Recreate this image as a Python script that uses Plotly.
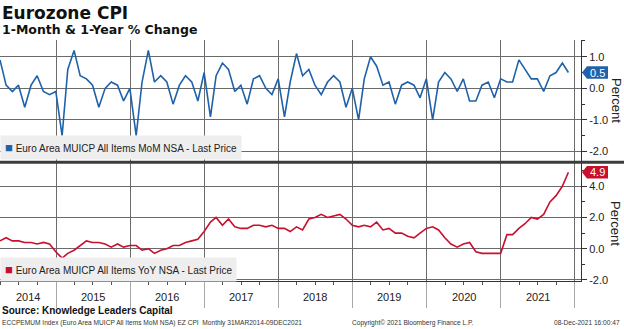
import pandas as pd
import plotly.graph_objects as go

# ---------------- data ----------------
mom = [
    0.9, 0.1, -0.1, 0.1, -0.6, 0.1, 0.4, -0.1, -0.2, -0.1,            # 2014 Mar-Dec
    -1.5, 0.6, 1.2, 0.4, 0.3, 0.1, -0.6, 0.0, 0.2, 0.1, -0.4, 0.0,    # 2015
    -1.5, 0.2, 1.2, 0.2, 0.4, 0.2, -0.5, 0.1, 0.4, 0.2, -0.4, 0.5,    # 2016
    -0.9, 0.4, 0.8, 0.6, -0.1, 0.1, -0.5, 0.3, 0.4, 0.0, -0.2, 0.3,   # 2017
    -0.9, 0.2, 1.1, 0.4, 0.6, 0.1, -0.2, 0.2, 0.4, 0.2, -0.6, 0.0,    # 2018
    -1.0, 0.3, 1.0, 0.7, 0.1, 0.2, -0.5, 0.1, 0.2, 0.1, -0.3, 0.3,    # 2019
    -1.0, 0.2, 0.5, 0.3, -0.1, 0.3, -0.4, -0.4, 0.1, 0.2, -0.3, 0.3,  # 2020
    0.2, 0.2, 0.9, 0.6, 0.3, 0.3, -0.1, 0.4, 0.5, 0.8, 0.5,           # 2021 Jan-Nov
]
yoy = [
    0.5, 0.7, 0.5, 0.5, 0.4, 0.4, 0.3, 0.4, 0.3, -0.2,
    -0.6, -0.3, -0.1, 0.2, 0.5, 0.4, 0.4, 0.3, 0.1, 0.3, 0.1, 0.2,
    0.2, -0.1, 0.0, -0.3, -0.1, 0.0, 0.2, 0.2, 0.4, 0.5, 0.6, 1.1,
    1.7, 2.0, 1.5, 1.9, 1.4, 1.3, 1.3, 1.5, 1.5, 1.4, 1.5, 1.3,
    1.3, 1.1, 1.4, 1.2, 1.9, 2.0, 2.2, 2.0, 2.1, 2.2, 1.9, 1.5,
    1.4, 1.5, 1.4, 1.7, 1.2, 1.3, 1.0, 1.0, 0.8, 0.7, 1.0, 1.3,
    1.4, 1.2, 0.7, 0.3, 0.1, 0.3, 0.4, -0.2, -0.3, -0.3, -0.3, -0.3,
    0.9, 0.9, 1.3, 1.6, 2.0, 1.9, 2.2, 3.0, 3.4, 4.0, 4.9,
]
months = pd.date_range("2014-03-31", periods=len(mom), freq=pd.offsets.MonthEnd())

year_labels = ["2014", "2015", "2016", "2017", "2018", "2019", "2020", "2021"]
year_label_pos = ["2014-08-14", "2015-07-02", "2016-07-02", "2017-07-02",
                  "2018-07-02", "2019-07-02", "2020-07-02", "2021-07-02"]
year_bounds = ["2015-01-01", "2016-01-01", "2017-01-01", "2018-01-01",
               "2019-01-01", "2020-01-01", "2021-01-01", "2022-01-01"]

top_ticks = [-2, -1, 0, 1]
top_tick_text = ["-2.0", "-1.0", "0.0", "1.0"]
bot_ticks = [-2, 0, 2, 4]
bot_tick_text = ["-2.0", "0.0", "2.0", "4.0"]

mom_name = "Euro Area MUICP All Items MoM NSA - Last Price"
yoy_name = "Euro Area MUICP All Items YoY NSA - Last Price"
title = "Eurozone CPI"
subtitle = "1-Month & 1-Year % Change"
source = "Source: Knowledge Leaders Capital"
foot_left = "ECCPEMUM Index (Euro Area MUICP All Items MoM NSA) EZ CPI  Monthly 31MAR2014-09DEC2021"
foot_mid = "Copyright\u00a9 2021 Bloomberg Finance L.P."
foot_right = "08-Dec-2021 16:00:47"

# ---------------- style ----------------
W, H = 624, 329
BLUE = "#1f62a9"
RED = "#c8102e"
GRID = "#6b6b6b"
AX = "#333333"
FONT = "Liberation Sans, Arial, sans-serif"
XR = ["2014-03-31", "2022-01-31"]
X_END = 581


def py(y):
    return 1 - y / H


def px(x):
    return x / W


fig = go.Figure()
fig.add_trace(go.Scatter(x=months, y=mom, mode="lines", line=dict(color=BLUE, width=1.6),
                         xaxis="x", yaxis="y", showlegend=False, hoverinfo="skip"))
fig.add_trace(go.Scatter(x=months, y=yoy, mode="lines", line=dict(color=RED, width=1.6),
                         xaxis="x2", yaxis="y2", showlegend=False, hoverinfo="skip"))

xdom = [0, px(X_END)]
top_dom = [py(161), py(40)]
bot_dom = [py(281), py(163)]
top_range = [-2.30, 1.53]
bot_range = [-2.07, 5.49]

common_x = dict(type="date", range=XR, domain=xdom, tickmode="array", tickvals=year_bounds,
                showgrid=True, gridcolor=GRID, gridwidth=1, zeroline=False, fixedrange=True)

fig.update_layout(
    width=W, height=H, template="none",
    margin=dict(l=0, r=0, t=0, b=0),
    paper_bgcolor="white", plot_bgcolor="white",
    font=dict(family=FONT, size=11, color="#222222"),
    xaxis=dict(**common_x, anchor="y", showticklabels=False, ticks="", showline=False),
    xaxis2=dict(**common_x, anchor="y2", ticktext=[""] * len(year_bounds),
                ticks="outside", ticklen=26, tickcolor="#a8a8a8", tickwidth=1,
                showline=True, linecolor=AX, linewidth=1,
                minor=dict(dtick="M3", tick0="2014-01-01", ticks="outside", ticklen=3,
                           tickcolor="#555555", showgrid=False)),
    yaxis=dict(domain=top_dom, range=top_range, side="right", anchor="x",
               tickmode="array", tickvals=top_ticks, ticktext=top_tick_text,
               showgrid=True, gridcolor=GRID, zeroline=False,
               showline=True, linecolor=AX, linewidth=1,
               ticks="outside", ticklen=5, tickcolor=AX,
               minor=dict(tickmode="linear", tick0=0, dtick=0.5, ticks="outside", ticklen=3,
                          tickcolor=AX, showgrid=False),
               tickfont=dict(size=11, color="#222222"), fixedrange=True),
    yaxis2=dict(domain=bot_dom, range=bot_range, side="right", anchor="x2",
                tickmode="array", tickvals=bot_ticks, ticktext=bot_tick_text,
                showgrid=True, gridcolor=GRID, zeroline=False,
                showline=True, linecolor=AX, linewidth=1,
                ticks="outside", ticklen=5, tickcolor=AX,
                minor=dict(tickmode="linear", tick0=0, dtick=1, ticks="outside", ticklen=3,
                           tickcolor=AX, showgrid=False),
                tickfont=dict(size=11, color="#222222"), fixedrange=True),
)

shapes = []
# separator between panels
shapes.append(dict(type="line", xref="paper", yref="paper", x0=0, x1=1, y0=py(162.3), y1=py(162.3),
                   line=dict(color="#3c3c3c", width=3)))


def value_tag(val, yref, half, color):
    x0, x1, x2 = px(X_END + 1), px(X_END + 6), px(X_END + 27)
    return dict(type="path", xref="paper", yref=yref, fillcolor=color, line=dict(width=0),
                path=f"M {x0},{val} L {x1},{val + half} L {x2},{val + half} "
                     f"L {x2},{val - half} L {x1},{val - half} Z")


top_ppu = 121 / (top_range[1] - top_range[0])
bot_ppu = 118 / (bot_range[1] - bot_range[0])
shapes.append(value_tag(mom[-1], "y", 6.2 / top_ppu, BLUE))
shapes.append(value_tag(yoy[-1], "y2", 6.2 / bot_ppu, RED))
fig.update_layout(shapes=shapes)

ann = []
ann.append(dict(text=f"{mom[-1]:.1f}", xref="paper", yref="y", x=px(X_END + 16.5), y=mom[-1],
                showarrow=False, font=dict(size=11, color="white", family=FONT),
                xanchor="center", yanchor="middle"))
ann.append(dict(text=f"{yoy[-1]:.1f}", xref="paper", yref="y2", x=px(X_END + 16.5), y=yoy[-1],
                showarrow=False, font=dict(size=11, color="white", family=FONT),
                xanchor="center", yanchor="middle"))

# titles
ann.append(dict(text=f"<b>{title}</b>", xref="paper", yref="paper", x=0, y=py(12.5),
                xanchor="left", yanchor="middle", showarrow=False,
                font=dict(family="DejaVu Sans", size=17, color="#111111")))
ann.append(dict(text=f"<b>{subtitle}</b>", xref="paper", yref="paper", x=0, y=py(29.5),
                xanchor="left", yanchor="middle", showarrow=False,
                font=dict(family="DejaVu Sans", size=12.5, color="#111111")))

# legends
ann.append(dict(text=f"<span style='color:{BLUE};font-size:13px'>\u25a0</span> {mom_name}",
                xref="paper", yref="paper", x=0, y=py(148), xanchor="left", yanchor="middle",
                showarrow=False, bgcolor="#eeeeee", borderpad=4,
                font=dict(family=FONT, size=10, color="#222222")))
ann.append(dict(text=f"<span style='color:{RED};font-size:13px'>\u25a0</span> {yoy_name}",
                xref="paper", yref="paper", x=0, y=py(269.5), xanchor="left", yanchor="middle",
                showarrow=False, bgcolor="#eeeeee", borderpad=4,
                font=dict(family=FONT, size=10, color="#222222")))

# Percent axis titles
for yc in (100, 223):
    ann.append(dict(text="Percent", xref="paper", yref="paper", x=px(616), y=py(yc),
                    xanchor="center", yanchor="middle", textangle=90, showarrow=False,
                    font=dict(family=FONT, size=13, color="#222222")))

# year labels
for lab, pos in zip(year_labels, year_label_pos):
    ann.append(dict(text=lab, xref="x2", yref="paper", x=pos, y=py(297),
                    xanchor="center", yanchor="middle", showarrow=False,
                    font=dict(family=FONT, size=11, color="#222222")))

# footer
ann.append(dict(text=f"<b>{source}</b>", xref="paper", yref="paper", x=0, y=py(310.5),
                xanchor="left", yanchor="middle", showarrow=False,
                font=dict(family=FONT, size=10, color="#111111")))
ann.append(dict(text=foot_left, xref="paper", yref="paper", x=0, y=py(322.5),
                xanchor="left", yanchor="middle", showarrow=False,
                font=dict(family=FONT, size=6.6, color="#333333")))
ann.append(dict(text=foot_mid, xref="paper", yref="paper", x=px(412), y=py(322.5),
                xanchor="center", yanchor="middle", showarrow=False,
                font=dict(family=FONT, size=6.6, color="#333333")))
ann.append(dict(text=foot_right, xref="paper", yref="paper", x=px(622), y=py(322.5),
                xanchor="right", yanchor="middle", showarrow=False,
                font=dict(family=FONT, size=6.6, color="#333333")))

fig.update_layout(annotations=ann)
fig.write_html("out.html")
